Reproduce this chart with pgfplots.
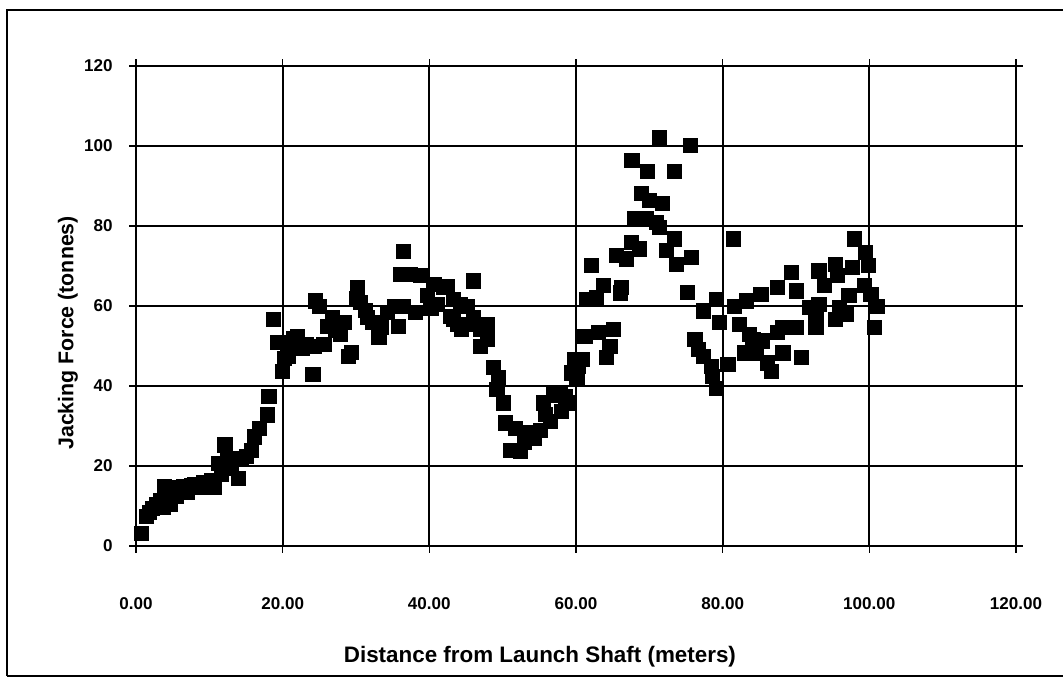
\documentclass[border=0pt]{standalone}
\usepackage{pgfplots}
\pgfplotsset{compat=1.18}
\usepackage{fontspec}
\setmainfont{Liberation Sans}
\begin{document}
\begin{tikzpicture}
\useasboundingbox (-102pt,-99pt) rectangle (695.25pt,409.5pt);
\draw[line width=1.8pt] (-96.75pt,-97.5pt) -- (-96.75pt,402pt) -- (695.25pt,402pt);
\draw[line width=1.5pt] (-96.75pt,-97.5pt) -- (695.25pt,-97.5pt);
\begin{axis}[
  at={(0,0)}, anchor=south west,
  scale only axis, width=660pt, height=360pt,
  xmin=0, xmax=120, ymin=0, ymax=120,
  xtick={0,20,...,120}, ytick={0,20,...,120},
  grid=major,
  grid style={black, line width=1.3pt},
  axis line style={line width=1.3pt},
  tick align=outside, major tick length=5pt,
  tick style={black, line width=1pt},
  /pgf/number format/assume math mode=true,
  xticklabel={\pgfmathprintnumber[fixed,fixed zerofill,precision=2,1000 sep={}]{\tick}},
  yticklabel={\pgfmathprintnumber[fixed,precision=0]{\tick}},
  xticklabel style={font=\fontsize{12.8}{14}\selectfont\bfseries, anchor=north, yshift=-30pt},
  yticklabel style={font=\fontsize{12.8}{14}\selectfont\bfseries, anchor=east, xshift=-9pt},
  xlabel={Distance from Launch Shaft (meters)},
  ylabel={Jacking Force (tonnes)},
  xlabel style={font=\fontsize{16.8}{19}\selectfont\bfseries, at={(axis description cs:0.459,0)}, anchor=center, yshift=-83pt},
  ylabel style={font=\fontsize{16}{19}\selectfont\bfseries, at={(axis description cs:-0.0773,0.444)}, anchor=center},
]
\addplot[only marks, mark=square*, mark size=5.3pt, black, mark options={fill=black}] coordinates {
(0.7,3.2) (1.4,7.5) (1.8,8.5) (2.2,9.5) (2.8,10.5) (3.3,11.5) (3.7,9.8) (3.8,14.8)
(4.2,12.5) (4.6,10.5) (5.0,14.0) (5.5,12.5) (5.9,14.7) (6.5,15.0) (7.0,13.5) (7.5,15.2)
(8.0,15.5) (8.6,14.8) (9.2,16.0) (9.8,15.5) (10.3,16.5) (10.7,14.8) (11.2,20.7) (11.6,18.0)
(12.1,25.3) (12.5,22.0) (13.0,19.5) (13.9,16.9) (14.3,22.0) (15.0,22.5) (15.7,24.0) (16.1,27.3)
(16.8,29.5) (17.9,32.8) (18.1,37.4) (18.7,56.7) (19.3,51.0) (20.0,43.7) (20.2,47.0) (20.7,47.5)
(21.1,51.0) (21.5,52.0) (22.0,52.5) (22.6,49.5) (23.2,50.5) (24.1,42.9) (24.3,50.0) (24.5,61.3)
(25.0,60.0) (25.6,50.4) (26.1,55.0) (26.8,57.1) (27.2,54.0) (27.8,53.0) (28.4,56.0) (29.0,47.5)
(29.3,48.5) (30.0,62.0) (30.2,64.7) (30.6,61.0) (31.3,59.0) (31.5,57.1) (32.2,56.0) (33.1,52.1)
(33.4,54.6) (34.3,58.4) (35.2,60.0) (35.8,55.0) (36.1,68.0) (36.5,73.6) (36.5,60.0) (37.4,68.0)
(38.1,58.4) (38.8,67.6) (39.7,62.6) (40.2,59.5) (40.6,65.5) (41.1,60.5) (41.9,64.7) (42.4,65.0)
(42.9,57.5) (43.3,61.7) (43.3,56.7) (43.8,55.4) (44.2,60.5) (44.4,54.2) (45.1,60.0) (45.1,55.4)
(46.0,66.3) (46.0,57.2) (46.9,54.2) (46.9,50.0) (47.9,51.7) (47.9,55.4) (48.7,44.6) (49.2,39.1)
(49.4,42.1) (50.1,35.8) (50.3,30.8) (51.0,24.0) (51.7,29.5) (52.4,23.6) (53.0,26.0) (53.7,28.3)
(54.3,27.0) (55.1,29.0) (55.5,35.8) (55.8,33.0) (56.5,31.1) (56.9,37.8) (57.8,38.3) (58.0,33.7)
(58.5,37.4) (58.9,35.8) (59.4,43.3) (59.8,46.7) (60.1,41.6) (60.3,45.0) (60.8,46.7) (61.2,52.5)
(61.4,61.7) (62.1,70.1) (62.8,62.2) (63.0,53.4) (63.7,65.1) (64.1,47.1) (64.6,50.0) (65.1,54.2)
(65.5,72.6) (66.0,63.3) (66.2,64.7) (66.9,71.8) (67.5,76.0) (67.6,96.5) (68.0,81.8) (68.6,74.3)
(68.9,88.1) (69.6,81.8) (69.7,93.7) (70.0,86.4) (71.0,81.0) (71.3,102.1) (71.4,79.7) (71.8,85.6)
(72.3,73.9) (73.4,93.7) (73.4,76.8) (73.7,70.5) (75.2,63.4) (75.6,100.1) (75.7,72.2) (76.2,51.7)
(76.7,49.1) (77.3,58.8) (77.3,47.5) (78.4,45.0) (78.6,42.5) (79.1,61.7) (79.1,39.5) (79.5,55.9)
(80.7,45.4) (81.4,76.8) (81.6,60.0) (82.3,55.4) (82.9,48.3) (83.2,61.3) (83.6,52.9) (84.1,51.7)
(84.6,48.3) (85.2,63.0) (85.4,51.3) (86.1,45.8) (86.6,43.7) (87.5,64.7) (87.5,53.4) (88.2,54.6)
(88.2,48.3) (89.3,68.4) (90.0,63.8) (90.0,54.6) (90.7,47.1) (91.8,59.6) (92.7,57.5) (92.7,54.6)
(93.1,68.8) (93.1,60.5) (93.8,65.1) (95.4,70.5) (95.4,56.7) (95.6,67.6) (95.9,59.6) (96.8,58.0)
(97.2,62.6) (97.7,69.7) (97.9,76.8) (99.3,65.1) (99.5,73.5) (99.9,70.1) (100.2,63.0) (100.7,54.6)
(101.1,60.0)
};
\end{axis}
\end{tikzpicture}
\end{document}
